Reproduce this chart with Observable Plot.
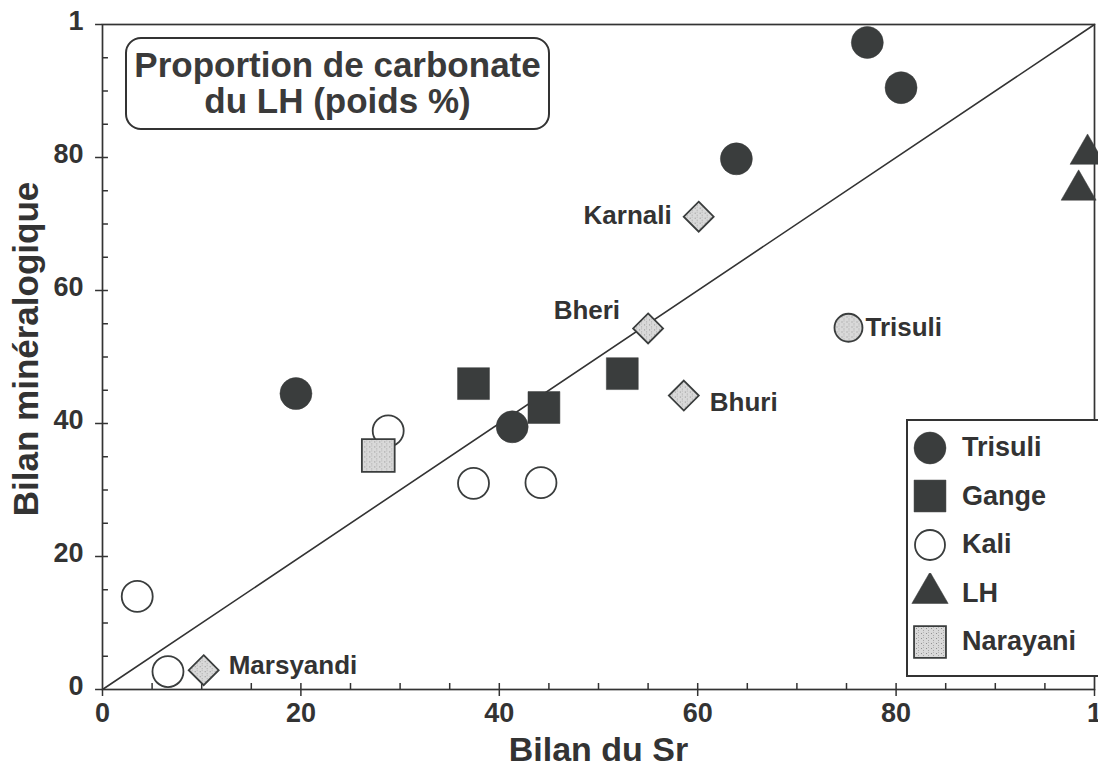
<!DOCTYPE html>
<html>
<head>
<meta charset="utf-8">
<script src="https://cdn.jsdelivr.net/npm/d3@7"></script>
<script src="https://cdn.jsdelivr.net/npm/@observablehq/plot@0.6"></script>
<style>
html,body{margin:0;padding:0;background:#fff;overflow:hidden;}
#wrap{position:relative;width:1098px;height:772px;overflow:hidden;font-family:"Liberation Sans",Arial,Helvetica,sans-serif;color:#333;}
#chart{position:absolute;left:0;top:0;}
#title{position:absolute;left:125px;top:37px;width:421px;height:89px;border:2px solid #333;border-radius:16px;text-align:center;font-weight:bold;font-size:35px;color:#3a3a3a;}
#title div{position:absolute;left:0;right:0;height:35px;line-height:35px;white-space:nowrap;}
#legend{position:absolute;left:906px;top:419px;width:220px;height:254px;border:2px solid #333;background:#fff;}
.row{position:absolute;left:0;height:49px;display:flex;align-items:center;}
.row svg{margin-left:3px;}
.row span{margin-left:13px;font-weight:bold;font-size:27px;color:#333;}
</style>
</head>
<body>
<div id="wrap">
  <div id="chart"></div>
  <div id="title"><div style="top:8px">Proportion de carbonate</div><div style="top:44px">du LH (poids %)</div></div>
  <div id="legend"></div>
</div>
<script>
// ---------- data ----------
const trisuliX = [77.1, 80.5, 63.9, 19.5, 41.3];
const trisuliY = [97.3, 90.5, 79.8, 44.5, 39.5];
const gangeX = [37.4, 44.5, 52.4];
const gangeY = [46.0, 42.4, 47.5];
const kaliX = [3.5, 6.6, 28.8, 37.4, 44.2];
const kaliY = [14.0, 2.7, 38.9, 31.0, 31.1];
const lhX = [99.3, 98.4];
const lhY = [80.5, 75.1];
const narayaniX = [27.8];
const narayaniY = [35.2];
const riverNames = ["Karnali", "Bheri", "Bhuri", "Marsyandi"];
const riverX = [60.1, 55.0, 58.6, 10.2];
const riverY = [71.1, 54.3, 44.2, 2.9];
const trisuliMixName = ["Trisuli"];
const trisuliMixX = [75.2];
const trisuliMixY = [54.4];
const diagonal = [0, 100];
const majorTicks = [0, 20, 40, 60, 80, 100];
const majorTickLabels = ["0", "20", "40", "60", "80", "1"];
const minorTicks = [5, 10, 15, 20, 25, 30, 35, 40, 45, 50, 55, 60, 65, 70, 75, 80, 85, 90, 95];
const legendNames = ["Trisuli", "Gange", "Kali", "LH", "Narayani"];

// ---------- tables ----------
const zip = (xs, ys) => xs.map((x, i) => ({x, y: ys[i]}));
const trisuli = zip(trisuliX, trisuliY);
const gange = zip(gangeX, gangeY);
const kali = zip(kaliX, kaliY);
const lh = zip(lhX, lhY);
const narayani = zip(narayaniX, narayaniY);
const rivers = riverNames.map((name, i) => ({name, x: riverX[i], y: riverY[i]}));
const trisuliMix = trisuliMixName.map((name, i) => ({name, x: trisuliMixX[i], y: trisuliMixY[i]}));
const labelled = [...rivers, ...trisuliMix];

const ink = "#3a3d3d";
const txt = "#333";
const font = "Liberation Sans, Arial, Helvetica, sans-serif";

const labelStyle = {
  Karnali: {textAnchor: "end", dx: -27, dy: -1},
  Bheri: {textAnchor: "end", dx: -28, dy: -18},
  Bhuri: {textAnchor: "start", dx: 26, dy: 7},
  Marsyandi: {textAnchor: "start", dx: 25, dy: -5},
  Trisuli: {textAnchor: "start", dx: 17, dy: 0}
};

const tickFmt = d => majorTickLabels[majorTicks.indexOf(d)];

const svg = Plot.plot({
  width: 1098,
  height: 772,
  marginLeft: 102,
  marginRight: 4,
  marginTop: 24,
  marginBottom: 83,
  style: {fontFamily: font, color: txt, background: "transparent", overflow: "visible"},
  x: {domain: [0, 100], axis: null},
  y: {domain: [0, 100], axis: null},
  marks: [
    Plot.frame({stroke: txt, strokeWidth: 1.7}),
    // inner ticks (every 5)
    Plot.ruleX(minorTicks, {x: d => d, y1: 0, y2: 0.9, stroke: txt, strokeWidth: 1.5}),
    Plot.ruleY(minorTicks, {y: d => d, x1: 0, x2: 0.6, stroke: txt, strokeWidth: 1.5}),
    // outer ticks (major)
    Plot.ruleX(majorTicks, {x: d => d, y1: 0, y2: -1.05, stroke: txt, strokeWidth: 1.5}),
    Plot.ruleY(majorTicks, {y: d => d, x1: 0, x2: -0.7, stroke: txt, strokeWidth: 1.5}),
    // tick labels
    Plot.text(majorTicks, {x: d => d, frameAnchor: "bottom", lineAnchor: "top", textAnchor: "middle", dy: 13, text: tickFmt, fontSize: 27, fontWeight: "bold", fill: txt}),
    Plot.text(majorTicks, {y: d => d, frameAnchor: "left", lineAnchor: "middle", textAnchor: "end", dx: -19, dy: -3, text: tickFmt, fontSize: 27, fontWeight: "bold", fill: txt}),
    Plot.line(diagonal, {x: d => d, y: d => d, stroke: txt, strokeWidth: 1.6}),
    Plot.dot(kali, {x: "x", y: "y", symbol: "circle", r: 15.5, fill: "white", stroke: ink, strokeWidth: 1.8}),
    Plot.dot(narayani, {x: "x", y: "y", symbol: "square", r: 18.5, fill: "url(#speck)", stroke: ink, strokeWidth: 1.8}),
    Plot.dot(trisuli, {x: "x", y: "y", symbol: "circle", r: 16, fill: ink, stroke: ink, strokeWidth: 0.5}),
    Plot.dot(gange, {x: "x", y: "y", symbol: "square", r: 18, fill: ink, stroke: ink, strokeWidth: 0.5}),
    Plot.dot(lh, {x: "x", y: "y", symbol: "triangle", r: 13, fill: ink, stroke: ink, strokeWidth: 0.5}),
    Plot.dot(rivers, {x: "x", y: "y", symbol: "diamond2", r: 13.5, fill: "url(#speck)", stroke: ink, strokeWidth: 1.8}),
    Plot.dot(trisuliMix, {x: "x", y: "y", symbol: "circle", r: 14, fill: "url(#speck)", stroke: ink, strokeWidth: 1.8}),
    ...labelled.map(d => Plot.text([d], {x: "x", y: "y", text: "name", fontSize: 26, fontWeight: "bold", fill: txt, ...labelStyle[d.name]})),
    Plot.text(["Bilan du Sr"], {text: d => d, frameAnchor: "bottom", textAnchor: "middle", lineAnchor: "middle", dy: 61, fontSize: 34, fontWeight: "bold", fill: txt}),
    Plot.text(["Bilan minéralogique"], {text: d => d, frameAnchor: "left", textAnchor: "middle", lineAnchor: "middle", rotate: -90, dx: -76, dy: -8, fontSize: 35, fontWeight: "bold", fill: txt})
  ]
});

// speckled pattern
const defs = d3.select(svg).insert("defs", ":first-child");
const pat = defs.append("pattern").attr("id", "speck").attr("width", 5).attr("height", 5).attr("patternUnits", "userSpaceOnUse");
pat.append("rect").attr("width", 5).attr("height", 5).attr("fill", "#d9d9d9");
pat.append("rect").attr("x", 1).attr("y", 1).attr("width", 1).attr("height", 1).attr("fill", "#8f8f8f");
pat.append("rect").attr("x", 3).attr("y", 3).attr("width", 1).attr("height", 1).attr("fill", "#a5a5a5");
pat.append("rect").attr("x", 3).attr("y", 0).attr("width", 1).attr("height", 1).attr("fill", "#b5b5b5");

document.getElementById("chart").appendChild(svg);

// ---------- legend ----------
const legendSym = {
  Trisuli: {type: d3.symbolCircle, r: 16, fill: ink, stroke: ink, sw: 0.5},
  Gange: {type: d3.symbolSquare, r: 18, fill: ink, stroke: ink, sw: 0.5},
  Kali: {type: d3.symbolCircle, r: 15, fill: "white", stroke: ink, sw: 1.8},
  LH: {type: d3.symbolTriangle, r: 13.5, fill: ink, stroke: ink, sw: 0.5},
  Narayani: {type: d3.symbolSquare, r: 18, fill: "url(#speck)", stroke: ink, sw: 1.8}
};
const legend = d3.select("#legend");
legendNames.forEach((name, i) => {
  const s = legendSym[name];
  const row = legend.append("div").attr("class", "row").style("top", (2 + i * 48.5) + "px");
  const sv = row.append("svg").attr("width", 38).attr("height", 40);
  sv.append("path")
    .attr("transform", "translate(19,20)")
    .attr("d", d3.symbol(s.type, Math.PI * s.r * s.r)())
    .attr("fill", s.fill).attr("stroke", s.stroke).attr("stroke-width", s.sw);
  row.append("span").text(name);
});
</script>
</body>
</html>
